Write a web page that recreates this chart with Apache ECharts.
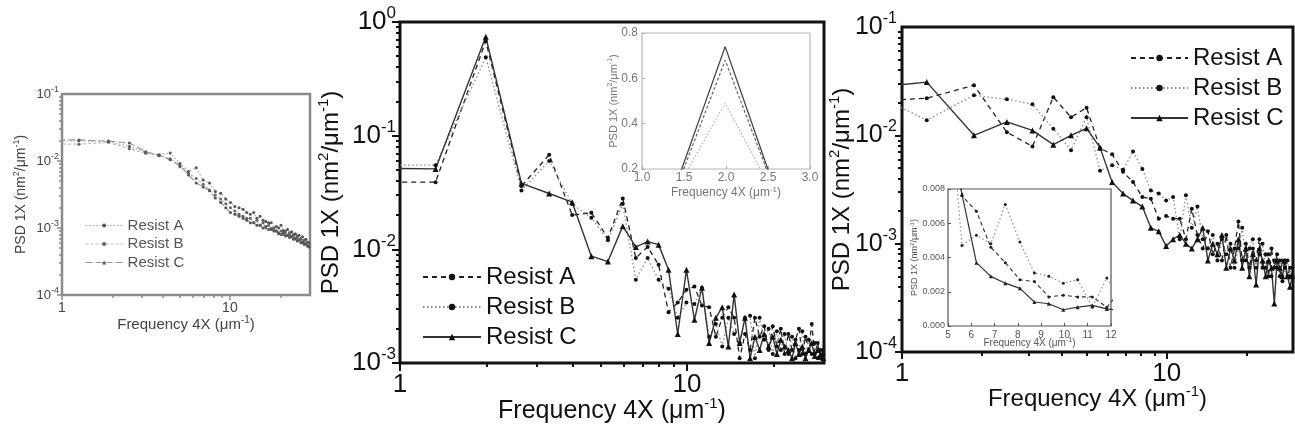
<!DOCTYPE html>
<html>
<head>
<meta charset="utf-8">
<script src="https://cdn.jsdelivr.net/npm/echarts@6.0.0/dist/echarts.min.js"></script>
<style>
  html, body { margin: 0; padding: 0; background: #fff; }
  #chart { width: 1295px; height: 432px; }
</style>
</head>
<body>
<div id="chart"></div>
<script>
const FONT = '"Liberation Sans", Arial, Helvetica, sans-serif';

// ---- left panel: PSD of resists A, B, C ----
const leftFreq = [0.63, 1.26, 1.89, 2.52, 3.15, 3.78, 4.41, 5.04, 5.67, 6.30,
  6.93, 7.56, 8.19, 8.82, 9.45, 10.08, 10.71, 11.34, 11.97, 12.60,
  13.23, 13.86, 14.49, 15.12, 15.75, 16.38, 17.01, 17.64, 18.27, 18.90,
  19.53, 20.16, 20.79, 21.42, 22.05, 22.68, 23.31, 23.94, 24.57, 25.20,
  25.83, 26.46, 27.09, 27.72, 28.35, 28.98, 29.61];
const leftA = [0.0195, 0.0200, 0.0195, 0.0165, 0.0135, 0.0124, 0.0132, 0.0092, 0.0070, 0.0079,
  0.0052, 0.0047, 0.0035, 0.0033, 0.0027, 0.0024, 0.0021, 0.0020, 0.0019, 0.0017,
  0.0016, 0.0017, 0.0014, 0.0015, 0.0013, 0.00125, 0.0012, 0.0012, 0.0010, 0.00105,
  0.0010, 0.0011, 0.00092, 0.0009, 0.00095, 0.00085, 0.00088, 0.0008, 0.00082, 0.00076,
  0.00078, 0.0007, 0.00074, 0.00066, 0.00068, 0.00062, 0.0006];
const leftB = [0.0180, 0.0178, 0.0190, 0.0152, 0.0130, 0.0120, 0.0108, 0.0082, 0.0066, 0.0055,
  0.0045, 0.0037, 0.0031, 0.0027, 0.0023, 0.0020, 0.0018, 0.0016, 0.0015, 0.0014,
  0.0014, 0.0012, 0.0013, 0.0011, 0.0012, 0.0010, 0.0011, 0.00095, 0.00098, 0.0009,
  0.00085, 0.0009, 0.0008, 0.00084, 0.00078, 0.0008, 0.00074, 0.00076, 0.0007, 0.00072,
  0.00066, 0.00068, 0.00062, 0.00064, 0.00058, 0.0006, 0.00055];
const leftC = [0.0210, 0.0206, 0.0198, 0.0186, 0.0138, 0.0122, 0.0104, 0.0086, 0.0062, 0.0047,
  0.0041, 0.0036, 0.0028, 0.0024, 0.0020, 0.0017, 0.0016, 0.0015, 0.0014, 0.0013,
  0.0012, 0.0012, 0.0011, 0.0011, 0.0010, 0.00105, 0.00095, 0.00098, 0.0009, 0.0009,
  0.00082, 0.0008, 0.00084, 0.00076, 0.00078, 0.00072, 0.00074, 0.00068, 0.0007, 0.00064,
  0.00066, 0.0006, 0.00062, 0.00057, 0.00058, 0.00054, 0.00052];

// ---- middle panel ----
const midFreq = [0.66, 1.33, 1.99, 2.65, 3.31, 3.98, 4.64, 5.30, 5.97, 6.63,
  7.29, 7.96, 8.62, 9.28, 9.95, 10.61, 11.27, 11.94, 12.60, 13.26,
  13.93, 14.59, 15.25, 15.92, 16.58, 17.24, 17.90, 18.57, 19.23, 19.89,
  20.56, 21.22, 21.88, 22.55, 23.21, 23.87, 24.54, 25.20, 25.86, 26.53,
  27.19, 27.85, 28.51, 29.18, 29.84];
const midA = [0.039, 0.039, 0.68, 0.036, 0.068, 0.020, 0.021, 0.0126, 0.028, 0.0084,
  0.0105, 0.0073, 0.0028, 0.0034, 0.0044, 0.0047, 0.0032, 0.0031, 0.0017, 0.0025,
  0.0031, 0.0025, 0.0011, 0.0018, 0.0013, 0.0025, 0.0017, 0.0021, 0.0013, 0.0021,
  0.0014, 0.0020, 0.0012, 0.0018, 0.0013, 0.0016, 0.0020, 0.0012, 0.0017, 0.0013,
  0.0022, 0.0012, 0.0015, 0.0011, 0.0013];
const midB = [0.055, 0.055, 0.49, 0.033, 0.060, 0.025, 0.019, 0.012, 0.025, 0.0054,
  0.0084, 0.0054, 0.0045, 0.0025, 0.0034, 0.0033, 0.0046, 0.0017, 0.0022, 0.0014,
  0.0025, 0.0018, 0.0015, 0.0025, 0.0026, 0.0011, 0.0025, 0.0016, 0.0020, 0.0012,
  0.0019, 0.0013, 0.0018, 0.0012, 0.0017, 0.0011, 0.0013, 0.0019, 0.0012, 0.0016,
  0.0012, 0.0015, 0.0011, 0.0013, 0.0012];
const midC = [0.052, 0.051, 0.74, 0.038, 0.031, 0.026, 0.0087, 0.0078, 0.016, 0.0105,
  0.0117, 0.011, 0.0066, 0.0018, 0.0066, 0.0024, 0.0046, 0.0015, 0.0025, 0.0031,
  0.0014, 0.0040, 0.0015, 0.0025, 0.0011, 0.0017, 0.0013, 0.0018, 0.0014, 0.0017,
  0.0012, 0.0016, 0.0014, 0.0013, 0.0011, 0.0015, 0.0012, 0.0014, 0.0011, 0.0013,
  0.0015, 0.00115, 0.0013, 0.0012, 0.0011];

// ---- right panel ----
const rightFreq = [0.62, 1.24, 1.87, 2.49, 3.11, 3.73, 4.35, 4.98, 5.60, 6.22,
  6.84, 7.46, 8.09, 8.71, 9.33, 9.95, 10.57, 11.20, 11.82, 12.44,
  13.06, 13.68, 14.31, 14.93, 15.55, 16.17, 16.79, 17.42, 18.04, 18.66,
  19.28, 19.90, 20.53, 21.15, 21.77, 22.39, 23.01, 23.64, 24.26, 24.88,
  25.50, 26.12, 26.75, 27.37, 27.99, 28.61, 29.23, 29.86];
const rightA = [0.020, 0.022, 0.029, 0.0107, 0.0079, 0.0225, 0.0147, 0.0180, 0.0076, 0.0067,
  0.0046, 0.0037, 0.0027, 0.0026, 0.0017, 0.0018, 0.0017, 0.0017, 0.0011, 0.0021,
  0.0012, 0.0009, 0.0013, 0.0008, 0.0010, 0.0007, 0.0012, 0.0006, 0.0009, 0.0016,
  0.0007, 0.0010, 0.0006, 0.0009, 0.0007, 0.0011, 0.0006, 0.0008, 0.0005, 0.0009,
  0.0006, 0.0008, 0.0005, 0.0007, 0.0006, 0.0005, 0.0006, 0.0005];
const rightB = [0.032, 0.0138, 0.0235, 0.0215, 0.0194, 0.0115, 0.0073, 0.0147, 0.0047, 0.0053,
  0.0048, 0.0071, 0.0049, 0.0031, 0.0029, 0.0025, 0.0027, 0.0011, 0.0028, 0.0014,
  0.0022, 0.0011, 0.0009, 0.0012, 0.0007, 0.0011, 0.0008, 0.0010, 0.0006, 0.0009,
  0.0014, 0.0007, 0.0009, 0.0011, 0.0006, 0.0008, 0.0010, 0.0006, 0.0008, 0.0005,
  0.0007, 0.0006, 0.0007, 0.00045, 0.0006, 0.0007, 0.0005, 0.0006];
const rightC = [0.026, 0.031, 0.0100, 0.0133, 0.0111, 0.0082, 0.0100, 0.0116, 0.0077, 0.0037,
  0.0029, 0.0025, 0.0022, 0.0014, 0.0013, 0.00095, 0.0011, 0.0012, 0.0010, 0.0009,
  0.0011, 0.0014, 0.0007, 0.0010, 0.0008, 0.0012, 0.0006, 0.0009, 0.0007, 0.0011,
  0.0006, 0.0009, 0.0005, 0.0008, 0.00042, 0.0009, 0.0007, 0.0005, 0.0007, 0.0006,
  0.00028, 0.0007, 0.0006, 0.0005, 0.0007, 0.0005, 0.0004, 0.0005];

// tick positions for the log scales
const freqMajor = [1, 10];
const freqMinor = [2, 3, 4, 5, 6, 7, 8, 9, 20];

const pairs = (xs, ys) => xs.map((x, i) => [x, ys[i]]);

function decadeTicks(lo, hi) {
  const major = [], minor = [];
  for (let e = lo; e <= hi; e++) {
    major.push(Math.pow(10, e));
    if (e < hi) for (let m = 2; m <= 9; m++) minor.push(m * Math.pow(10, e));
  }
  return { major, minor };
}

const freqLabel = v => {
  const l = Math.log10(v);
  return Math.abs(l - Math.round(l)) < 1e-6 ? String(Math.round(v)) : '';
};
const powLabel = v => '{b|10}{s|' + Math.round(Math.log10(v)) + '}';

function supRich(base, sup, color, lh) {
  return {
    b: { fontSize: base, lineHeight: lh, color, fontFamily: FONT },
    n: { fontSize: base, lineHeight: lh, color, fontFamily: FONT },
    s: { fontSize: sup, lineHeight: sup, verticalAlign: 'top', color, fontFamily: FONT }
  };
}
const PSD_NAME = '{n|PSD 1X (nm}{s|2}{n|/\u03bcm}{s|-1}{n|)}';
const FREQ_NAME = '{n|Frequency 4X (\u03bcm}{s|-1}{n|)}';

// main log axes carry labels, names and the long (decade) ticks
function logXAxis(grid, o) {
  return {
    gridIndex: grid, type: 'log', logBase: 10, min: 1, max: 30, position: 'bottom', offset: 0,
    axisLine: { show: false },
    axisTick: { show: true, inside: false, customValues: freqMajor, length: o.majLen,
      lineStyle: { color: o.tickColor, width: o.tickW } },
    splitLine: { show: false }, minorTick: { show: false }, minorSplitLine: { show: false },
    axisLabel: { formatter: freqLabel, showMaxLabel: false, margin: o.margin,
      fontSize: o.fs, color: o.color, fontFamily: FONT },
    name: FREQ_NAME, nameLocation: 'middle', nameGap: o.nameGap, nameMoveOverlap: false,
    nameTextStyle: { rich: supRich(o.nfs, o.nsup, o.color, o.nlh) }
  };
}
function logYAxis(grid, o) {
  return {
    gridIndex: grid, type: 'log', logBase: 10, min: o.min, max: o.max, position: 'left', offset: 0,
    axisLine: { show: false },
    axisTick: { show: true, inside: false, customValues: o.ticks.major, length: o.majLen,
      lineStyle: { color: o.tickColor, width: o.tickW } },
    splitLine: { show: false }, minorTick: { show: false }, minorSplitLine: { show: false },
    axisLabel: { formatter: powLabel, margin: o.margin,
      rich: supRich(o.fs, o.sup, o.color, o.lh) },
    name: PSD_NAME, nameLocation: 'middle', nameGap: o.nameGap, nameRotate: 90, nameMoveOverlap: false,
    nameTextStyle: { rich: supRich(o.nfs, o.nsup, o.color, o.nlh) }
  };
}
// companion log axes on the same edge, only drawing the short in-between ticks
function minorLogX(grid, color, width, len) {
  return {
    gridIndex: grid, type: 'log', logBase: 10, min: 1, max: 30, position: 'bottom', offset: 0,
    axisLine: { show: false }, axisLabel: { show: false }, splitLine: { show: false },
    axisTick: { show: true, inside: false, customValues: freqMinor, length: len, lineStyle: { color, width } }
  };
}
function minorLogY(grid, min, max, ticks, color, width, len) {
  return {
    gridIndex: grid, type: 'log', logBase: 10, min, max, position: 'left', offset: 0,
    axisLine: { show: false }, axisLabel: { show: false }, splitLine: { show: false },
    axisTick: { show: true, inside: false, customValues: ticks.minor, length: len, lineStyle: { color, width } }
  };
}

function line(name, idx, xs, ys, st) {
  return {
    type: 'line', name, xAxisIndex: idx, yAxisIndex: idx, data: pairs(xs, ys),
    symbol: st.symbol || 'circle', symbolSize: st.size || 4,
    showSymbol: st.showSymbol !== false, clip: true, silent: true,
    itemStyle: { color: st.mark || '#111' },
    lineStyle: { color: st.color, width: st.width || 1.2, type: st.type || 'solid' },
    z: st.z || 3
  };
}

const darkStyle = {
  A: { color: '#222', width: 1.3, type: [5, 4], mark: '#111', size: 4 },
  B: { color: '#8a8a8a', width: 1.3, type: [1.5, 2.5], mark: '#111', size: 4 },
  C: { color: '#333', width: 1.4, type: 'solid', mark: '#111', size: 6, symbol: 'triangle' }
};
const lightStyle = {
  A: { color: '#a6a6a6', width: 1.2, type: [1.5, 2], mark: '#555', size: 3 },
  B: { color: '#bdbdbd', width: 1.2, type: [3, 2], mark: '#666', size: 3 },
  C: { color: '#9a9a9a', width: 1.2, type: [7, 3], mark: '#555', size: 3 }
};

const yLeft = decadeTicks(-4, -1);
const yMid = decadeTicks(-3, 0);
const yRight = decadeTicks(-4, -1);

const option = {
  animation: false,
  backgroundColor: '#fff',
  textStyle: { fontFamily: FONT },
  grid: [
    { left: 62, top: 94, width: 248, height: 201, show: true, borderColor: '#8a8a8a', borderWidth: 2.5, outerBoundsMode: 'none', containLabel: false },
    { left: 400, top: 22, width: 424, height: 341, show: true, borderColor: '#111', borderWidth: 3, outerBoundsMode: 'none', containLabel: false },
    { left: 902, top: 27, width: 391, height: 325, show: true, borderColor: '#111', borderWidth: 3, outerBoundsMode: 'none', containLabel: false },
    { left: 642, top: 33, width: 168, height: 136, show: true, borderColor: '#b8b8b8', borderWidth: 1.2, backgroundColor: '#fff', outerBoundsMode: 'none', containLabel: false },
    { left: 948, top: 189, width: 163, height: 137, show: true, borderColor: '#555', borderWidth: 1.2, backgroundColor: '#fff', outerBoundsMode: 'none', containLabel: false }
  ],
  xAxis: [
    logXAxis(0, { fs: 14, color: '#444', margin: 6, nameGap: 20, nfs: 15, nsup: 10, nlh: 20, majLen: 5, tickColor: '#8a8a8a', tickW: 1.5 }),
    logXAxis(1, { fs: 26, color: '#111', margin: 9, nameGap: 33, nfs: 25, nsup: 15, nlh: 30, majLen: 8, tickColor: '#111', tickW: 2 }),
    logXAxis(2, { fs: 26, color: '#111', margin: 9, nameGap: 32, nfs: 24, nsup: 15, nlh: 30, majLen: 7, tickColor: '#111', tickW: 2 }),
    {
      gridIndex: 3, type: 'value', min: 1, max: 3, interval: 0.5,
      axisLine: { show: false }, splitLine: { show: false },
      axisTick: { show: true, inside: true, length: 3, lineStyle: { color: '#aaa' } },
      axisLabel: { formatter: v => v.toFixed(1), fontSize: 12, color: '#777', margin: 3, fontFamily: FONT },
      name: FREQ_NAME, nameLocation: 'middle', nameGap: 17, nameMoveOverlap: false,
      nameTextStyle: { rich: supRich(12, 8, '#777', 14) }
    },
    {
      gridIndex: 4, type: 'value', min: 5, max: 12, interval: 1,
      axisLine: { show: false }, splitLine: { show: false },
      axisTick: { show: true, inside: true, length: 3, lineStyle: { color: '#555' } },
      axisLabel: { fontSize: 10, color: '#555', margin: 4, fontFamily: FONT },
      name: FREQ_NAME, nameLocation: 'middle', nameGap: 11, nameMoveOverlap: false,
      nameTextStyle: { rich: supRich(10, 7, '#555', 12) }
    },
    minorLogX(0, '#8a8a8a', 1.5, 3),
    minorLogX(1, '#111', 2, 4),
    minorLogX(2, '#111', 2, 4)
  ],
  yAxis: [
    logYAxis(0, { min: 1e-4, max: 1e-1, ticks: yLeft, fs: 13, sup: 9, lh: 18, color: '#444', margin: 3, nameGap: 32, nfs: 14, nsup: 9, nlh: 18, majLen: 5, tickColor: '#8a8a8a', tickW: 1.5 }),
    logYAxis(1, { min: 1e-3, max: 1, ticks: yMid, fs: 26, sup: 17, lh: 34, color: '#111', margin: 4, nameGap: 54, nfs: 24, nsup: 15, nlh: 30, majLen: 8, tickColor: '#111', tickW: 2 }),
    logYAxis(2, { min: 1e-4, max: 1e-1, ticks: yRight, fs: 25, sup: 16, lh: 33, color: '#111', margin: 5, nameGap: 45, nfs: 24, nsup: 15, nlh: 30, majLen: 7, tickColor: '#111', tickW: 2 }),
    {
      gridIndex: 3, type: 'value', min: 0.2, max: 0.8, interval: 0.2,
      axisLine: { show: false }, splitLine: { show: false },
      axisTick: { show: true, inside: true, length: 3, lineStyle: { color: '#aaa' } },
      axisLabel: { formatter: v => v.toFixed(1), fontSize: 12, color: '#777', margin: 4, fontFamily: FONT },
      name: PSD_NAME, nameLocation: 'middle', nameGap: 22, nameRotate: 90, nameMoveOverlap: false,
      nameTextStyle: { rich: supRich(11, 7, '#777', 13) }
    },
    {
      gridIndex: 4, type: 'value', min: 0, max: 0.008, interval: 0.002,
      axisLine: { show: false }, splitLine: { show: false },
      axisTick: { show: true, inside: true, length: 3, lineStyle: { color: '#555' } },
      axisLabel: { formatter: v => v.toFixed(3), fontSize: 9, color: '#555', margin: 3, fontFamily: FONT },
      name: PSD_NAME, nameLocation: 'middle', nameGap: 28, nameRotate: 90, nameMoveOverlap: false,
      nameTextStyle: { rich: supRich(9, 6, '#555', 11) }
    },
    minorLogY(0, 1e-4, 1e-1, yLeft, '#8a8a8a', 1.5, 3),
    minorLogY(1, 1e-3, 1, yMid, '#111', 2, 4),
    minorLogY(2, 1e-4, 1e-1, yRight, '#111', 2, 4)
  ],
  legend: [
    {
      left: 417, top: 260, orient: 'vertical', itemWidth: 58, itemHeight: 8, itemGap: 6,
      selectedMode: false, textStyle: { fontSize: 24, color: '#111', fontFamily: FONT },
      data: ['Resist A', 'Resist B', 'Resist C']
    },
    {
      left: 1125, top: 41, orient: 'vertical', itemWidth: 57, itemHeight: 8, itemGap: 6,
      selectedMode: false, textStyle: { fontSize: 24, color: '#111', fontFamily: FONT },
      data: ['Resist A', 'Resist B', 'Resist C']
    },
    {
      left: 80, top: 213, orient: 'vertical', itemWidth: 37, itemHeight: 5, itemGap: 3.5,
      selectedMode: false, textStyle: { fontSize: 15, color: '#555', fontFamily: FONT },
      data: [
        { name: 'Resist A', lineStyle: { color: lightStyle.A.color, type: lightStyle.A.type, width: 1.2 }, itemStyle: { color: '#555' } },
        { name: 'Resist B', lineStyle: { color: lightStyle.B.color, type: lightStyle.B.type, width: 1.2 }, itemStyle: { color: '#666' } },
        { name: 'Resist C', lineStyle: { color: lightStyle.C.color, type: lightStyle.C.type, width: 1.2 }, itemStyle: { color: '#555' } }
      ]
    }
  ],
  series: [
    line('Resist A', 1, midFreq, midA, darkStyle.A),
    line('Resist B', 1, midFreq, midB, darkStyle.B),
    line('Resist C', 1, midFreq, midC, darkStyle.C),

    line('Resist A', 2, rightFreq, rightA, darkStyle.A),
    line('Resist B', 2, rightFreq, rightB, darkStyle.B),
    line('Resist C', 2, rightFreq, rightC, darkStyle.C),

    line('Resist A', 0, leftFreq, leftA, lightStyle.A),
    line('Resist B', 0, leftFreq, leftB, lightStyle.B),
    line('Resist C', 0, leftFreq, leftC, lightStyle.C),

    // zoom on the main peak
    line('Resist A', 3, midFreq, midA, { color: '#666', width: 1.2, type: [3, 2], showSymbol: false, z: 6 }),
    line('Resist B', 3, midFreq, midB, { color: '#b0b0b0', width: 1.2, type: [1.5, 2], showSymbol: false, z: 6 }),
    line('Resist C', 3, midFreq, midC, { color: '#444', width: 1.3, showSymbol: false, z: 6 }),

    // linear view 5-12 µm⁻¹
    line('Resist A', 4, rightFreq, rightA, { color: '#333', width: 1.1, type: [4, 3], mark: '#222', size: 3, z: 6 }),
    line('Resist B', 4, rightFreq, rightB, { color: '#888', width: 1.1, type: [1.5, 2.5], mark: '#222', size: 3, z: 6 }),
    line('Resist C', 4, rightFreq, rightC, { color: '#333', width: 1.2, mark: '#222', size: 4, symbol: 'triangle', z: 6 })
  ]
};

const chart = echarts.init(document.getElementById('chart'), null, { renderer: 'canvas' });
chart.setOption(option);
</script>
</body>
</html>
